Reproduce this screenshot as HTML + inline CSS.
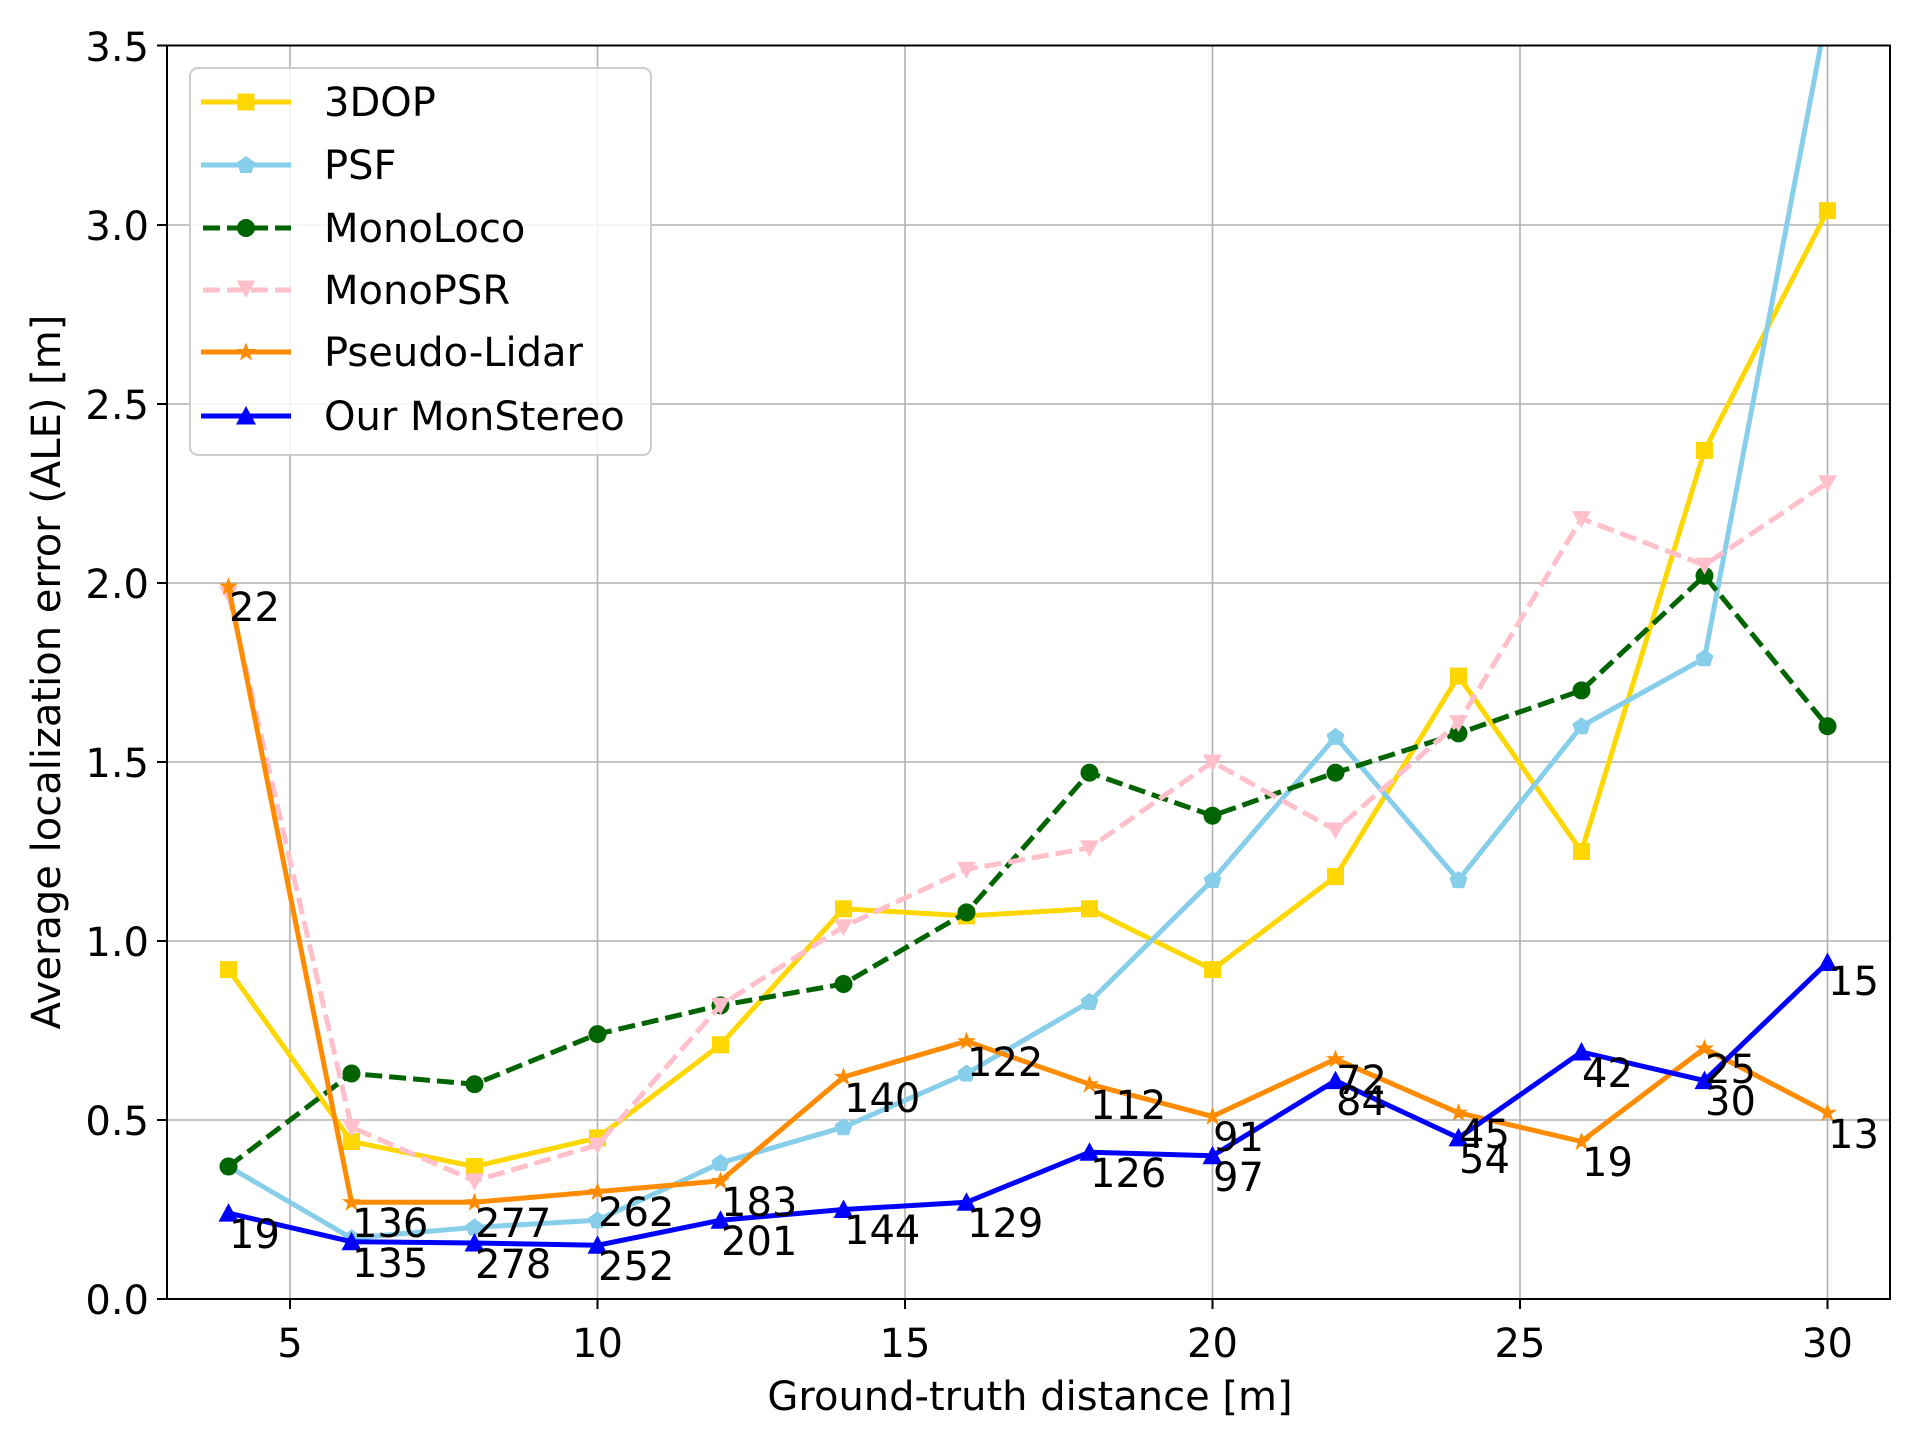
<!DOCTYPE html>
<html><head><meta charset="utf-8"><style>
html,body{margin:0;padding:0;background:#fff;}
svg{display:block;font-family:"DejaVu Sans","Liberation Sans",sans-serif;}
</style></head><body>
<svg width="1920" height="1440" viewBox="0 0 1920 1440" xmlns="http://www.w3.org/2000/svg">
<defs>
<clipPath id="ax"><rect x="167" y="45.5" width="1723" height="1253.5"/></clipPath>
<marker id="mSq" markerUnits="userSpaceOnUse" markerWidth="20" markerHeight="20" refX="10" refY="10" overflow="visible"><rect x="1.5" y="1.5" width="17" height="17" fill="#FFD700"/></marker>
<marker id="mPent" markerUnits="userSpaceOnUse" markerWidth="20" markerHeight="20" refX="10" refY="10" overflow="visible"><polygon points="10,1 19,7.5 15.6,18 4.4,18 1,7.5" fill="#87CEEB"/></marker>
<marker id="mCirc" markerUnits="userSpaceOnUse" markerWidth="20" markerHeight="20" refX="10" refY="10" overflow="visible"><circle cx="10" cy="10" r="9" fill="#006400"/></marker>
<marker id="mDown" markerUnits="userSpaceOnUse" markerWidth="20" markerHeight="20" refX="10" refY="10" overflow="visible"><polygon points="0.5,2.5 19.5,2.5 10,19.5" fill="#FFC0CB"/></marker>
<marker id="mStar" markerUnits="userSpaceOnUse" markerWidth="20" markerHeight="20" refX="10" refY="10" overflow="visible"><polygon points="10,0.5 12.5,7 19.5,7 13.8,11.3 16,18.5 10,14.2 4,18.5 6.2,11.3 0.5,7 7.5,7" fill="#FF8C00"/></marker>
<marker id="mUp" markerUnits="userSpaceOnUse" markerWidth="20" markerHeight="20" refX="10" refY="10" overflow="visible"><polygon points="10,0 20,18.5 0,18.5" fill="#0000FF"/></marker>
</defs>

<g stroke="#b0b0b0" stroke-width="1.6">
<line x1="290" y1="45.5" x2="290" y2="1299"/>
<line x1="597.5" y1="45.5" x2="597.5" y2="1299"/>
<line x1="905" y1="45.5" x2="905" y2="1299"/>
<line x1="1212.5" y1="45.5" x2="1212.5" y2="1299"/>
<line x1="1520" y1="45.5" x2="1520" y2="1299"/>
<line x1="1827.5" y1="45.5" x2="1827.5" y2="1299"/>
<line x1="167" y1="1120" x2="1890" y2="1120"/>
<line x1="167" y1="941" x2="1890" y2="941"/>
<line x1="167" y1="762" x2="1890" y2="762"/>
<line x1="167" y1="583" x2="1890" y2="583"/>
<line x1="167" y1="404" x2="1890" y2="404"/>
<line x1="167" y1="225" x2="1890" y2="225"/>
</g>

<g clip-path="url(#ax)" fill="none" stroke-width="5" stroke-linejoin="round">
<polyline stroke="#FFD700" marker-start="url(#mSq)" marker-mid="url(#mSq)" marker-end="url(#mSq)" points="228.5,969.6 351.5,1141.5 474.5,1166.5 597.5,1137.9 720.5,1044.8 843.5,908.8 966.5,915.9 1089.5,908.8 1212.5,969.6 1335.5,876.6 1458.5,676.1 1581.5,851.5 1704.5,450.5 1827.5,210.7"/>
<polyline stroke="#87CEEB" marker-start="url(#mPent)" marker-mid="url(#mPent)" marker-end="url(#mPent)" points="228.5,1166.5 351.5,1238.1 474.5,1227.4 597.5,1220.2 720.5,1163 843.5,1127.2 966.5,1073.5 1089.5,1001.9 1212.5,880.1 1335.5,736.9 1458.5,880.1 1581.5,726.2 1704.5,658.2 1827.5,10"/>
<polyline stroke="#006400" stroke-dasharray="17,7" marker-start="url(#mCirc)" marker-mid="url(#mCirc)" marker-end="url(#mCirc)" points="228.5,1166.5 351.5,1073.5 474.5,1084.2 597.5,1034.1 720.5,1005.4 843.5,984 966.5,912.4 1089.5,772.7 1212.5,815.7 1335.5,772.7 1458.5,733.4 1581.5,690.4 1704.5,575.8 1827.5,726.2"/>
<polyline stroke="#FFC0CB" stroke-dasharray="17,7" marker-start="url(#mDown)" marker-mid="url(#mDown)" marker-end="url(#mDown)" points="228.5,593.7 351.5,1127.2 474.5,1180.9 597.5,1145.1 720.5,1005.4 843.5,926.7 966.5,869.4 1089.5,847.9 1212.5,762 1335.5,830 1458.5,722.6 1581.5,518.6 1704.5,565.1 1827.5,482.8"/>
<polyline stroke="#FF8C00" marker-start="url(#mStar)" marker-mid="url(#mStar)" marker-end="url(#mStar)" points="228.5,586.6 351.5,1202.3 474.5,1202.3 597.5,1191.6 720.5,1180.9 843.5,1077 966.5,1041.2 1089.5,1084.2 1212.5,1116.4 1335.5,1059.1 1458.5,1112.8 1581.5,1141.5 1704.5,1048.4 1827.5,1112.8"/>
<polyline stroke="#0000FF" marker-start="url(#mUp)" marker-mid="url(#mUp)" marker-end="url(#mUp)" points="228.5,1213.1 351.5,1241.7 474.5,1243 597.5,1245.3 720.5,1220.2 843.5,1209.5 966.5,1202.3 1089.5,1152.2 1212.5,1155.8 1335.5,1080.6 1458.5,1137.9 1581.5,1052 1704.5,1080.6 1827.5,962.5"/>
</g>

<g font-size="40" fill="#000">
<text x="229" y="621">22</text>
<text x="352" y="1237">136</text>
<text x="475" y="1237">277</text>
<text x="598" y="1226">262</text>
<text x="721" y="1216">183</text>
<text x="844" y="1112">140</text>
<text x="967" y="1076">122</text>
<text x="1090" y="1119">112</text>
<text x="1213" y="1151">91</text>
<text x="1336" y="1094">72</text>
<text x="1459" y="1148">45</text>
<text x="1582" y="1176">19</text>
<text x="1705" y="1083">25</text>
<text x="1828" y="1148">13</text>
<text x="229" y="1248">19</text>
<text x="352" y="1277">135</text>
<text x="475" y="1278">278</text>
<text x="598" y="1280">252</text>
<text x="721" y="1255">201</text>
<text x="844" y="1244">144</text>
<text x="967" y="1237">129</text>
<text x="1090" y="1187">126</text>
<text x="1213" y="1191">97</text>
<text x="1336" y="1115">84</text>
<text x="1459" y="1173">54</text>
<text x="1582" y="1087">42</text>
<text x="1705" y="1115">30</text>
<text x="1828" y="995">15</text>
</g>

<rect x="167" y="45.5" width="1723" height="1253.5" fill="none" stroke="#000" stroke-width="2"/>
<g stroke="#000" stroke-width="2">
<line x1="290" y1="1299" x2="290" y2="1309"/>
<line x1="597.5" y1="1299" x2="597.5" y2="1309"/>
<line x1="905" y1="1299" x2="905" y2="1309"/>
<line x1="1212.5" y1="1299" x2="1212.5" y2="1309"/>
<line x1="1520" y1="1299" x2="1520" y2="1309"/>
<line x1="1827.5" y1="1299" x2="1827.5" y2="1309"/>
<line x1="157" y1="1299" x2="167" y2="1299"/>
<line x1="157" y1="1120" x2="167" y2="1120"/>
<line x1="157" y1="941" x2="167" y2="941"/>
<line x1="157" y1="762" x2="167" y2="762"/>
<line x1="157" y1="583" x2="167" y2="583"/>
<line x1="157" y1="404" x2="167" y2="404"/>
<line x1="157" y1="225" x2="167" y2="225"/>
<line x1="157" y1="45.5" x2="167" y2="45.5"/>
</g>
<g font-size="40" text-anchor="end" fill="#000">
<text x="149" y="1314">0.0</text>
<text x="149" y="1135">0.5</text>
<text x="149" y="956">1.0</text>
<text x="149" y="777">1.5</text>
<text x="149" y="598">2.0</text>
<text x="149" y="419">2.5</text>
<text x="149" y="240">3.0</text>
<text x="149" y="61">3.5</text>
</g>
<g font-size="40" text-anchor="middle" fill="#000">
<text x="290" y="1357">5</text>
<text x="597.5" y="1357">10</text>
<text x="905" y="1357">15</text>
<text x="1212.5" y="1357">20</text>
<text x="1520" y="1357">25</text>
<text x="1827.5" y="1357">30</text>
<text x="1030" y="1410">Ground-truth distance [m]</text>
<text transform="translate(60,672) rotate(-90)">Average localization error (ALE) [m]</text>
</g>

<rect x="190" y="68" width="461" height="387" rx="8" fill="#fff" fill-opacity="0.85" stroke="#cccccc" stroke-width="2"/>
<g stroke-width="5" fill="none">
<line x1="201" y1="102" x2="291" y2="102" stroke="#FFD700"/>
<line x1="201" y1="165" x2="291" y2="165" stroke="#87CEEB"/>
<line x1="203" y1="228" x2="291" y2="228" stroke="#006400" stroke-dasharray="17,7"/>
<line x1="203" y1="290" x2="291" y2="290" stroke="#FFC0CB" stroke-dasharray="17,7"/>
<line x1="201" y1="352" x2="291" y2="352" stroke="#FF8C00"/>
<line x1="201" y1="416" x2="291" y2="416" stroke="#0000FF"/>
</g>
<rect x="237.5" y="93.5" width="17" height="17" fill="#FFD700"/>
<polygon points="246,156 255,162.5 251.6,173 240.4,173 237,162.5" fill="#87CEEB"/>
<circle cx="246" cy="228" r="9" fill="#006400"/>
<polygon points="236.5,280.5 255.5,280.5 246,298" fill="#FFC0CB"/>
<polygon points="246,342.5 248.5,349 255.5,349 249.8,353.3 252,360.5 246,356.2 240,360.5 242.2,353.3 236.5,349 243.5,349" fill="#FF8C00"/>
<polygon points="246,406 256,424.5 236,424.5" fill="#0000FF"/>
<g font-size="40" fill="#000">
<text x="324" y="116">3DOP</text>
<text x="324" y="179">PSF</text>
<text x="324" y="242">MonoLoco</text>
<text x="324" y="304">MonoPSR</text>
<text x="324" y="366">Pseudo-Lidar</text>
<text x="324" y="430">Our MonStereo</text>
</g>
</svg>
</body></html>
